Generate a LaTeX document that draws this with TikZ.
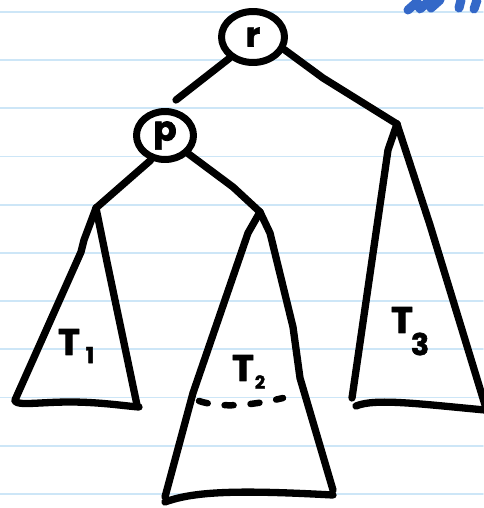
\documentclass[tikz,border=0pt]{standalone}
\usepackage{fontspec}
\setmainfont{Poppins}[BoldFeatures={FakeBold=2}]
\usetikzlibrary{shapes.geometric}
\definecolor{rulecol}{RGB}{205,230,247}
\definecolor{inkblue}{RGB}{52,104,200}
\begin{document}
\begin{tikzpicture}[x=1pt,y=-1pt, line cap=round, line join=round,
  ink/.style={line width=7.3pt, black},
  ruled/.style={rulecol, line width=1.8pt},
  vert/.style={ellipse, draw, line width=7pt, inner sep=0pt, font=\fontsize{34}{34}\selectfont\bfseries},
  lbl/.style={font=\fontsize{37}{37}\selectfont\bfseries, inner sep=0pt},
  sub/.style={font=\fontsize{22}{22}\selectfont\bfseries, inner sep=0pt}]
\useasboundingbox (0,0) rectangle (483,508);
\fill[white] (0,0) rectangle (483,508);
\foreach \y in {12,60.2,108.3,156.5,204.7,253,301.2,349.3,397.5,445.7,494}
  \draw[ruled] (0,\y) -- (483,\y);
% scribble
\draw[inkblue, line width=9pt] (408,10) -- (417,2) -- (420,9) -- (429,1) -- (431,8) -- (440,0);
\draw[inkblue, line width=9pt] (461,0) -- (459,8);
\draw[inkblue, line width=9pt] (477,0) -- (474,9);
% vertices
\node[vert, minimum width=63pt, minimum height=51pt] (r) at (253,37) {r};
\node[vert, minimum width=57pt, minimum height=48pt] (p) at (165,135.5) {p};
% apexes
\coordinate (a1) at (96,208);
\coordinate (a2) at (260,212);
\coordinate (a3) at (397,124);
\coordinate (pe) at (176,100);
% edges
\draw[ink] (r.-138) -- (pe);
\draw[ink] (r.-22) -- (323,78) -- (a3);
\draw[ink] (p.-120) -- (a1);
\draw[ink] (p.-38) -- (233,187) -- (a2);
% T1
\draw[ink] (a1) -- (84,240) -- (81,252) -- (15,400);
\draw[ink] (a1) -- (107,262) -- (137,405);
\draw[ink] (15,401) .. controls (18,406) and (40,402) .. (70,402) .. controls (100,402) and (125,406) .. (139,407);
% T2
\draw[ink] (a2) -- (248,233) -- (193,393) -- (165,497);
\draw[ink] (a2) -- (270,233) -- (293,327) -- (300,378) -- (333,490);
\draw[ink] (165,502) .. controls (195,491) and (240,490) .. (333,495);
\draw[ink, line width=6.5pt, dash pattern=on 9pt off 17pt] (199,401) .. controls (220,408) and (250,406) .. (283,398);
% T3
\draw[ink] (a3) -- (388,150) -- (352,398);
\draw[ink] (a3) -- (430,225) -- (485,405);
\draw[ink] (356,406) .. controls (375,398) and (420,404) .. (485,410);
% labels
\node[lbl] (t1) at (69,342) {T};
\node[sub] (s1) at (90,355) {1};
\node[lbl] (t2) at (243,368) {T};
\node[sub, font=\fontsize{18}{18}\selectfont\bfseries] (s2) at (260,382) {2};
\node[lbl] (t3) at (402,320) {T};
\node[sub, font=\fontsize{30}{30}\selectfont\bfseries] (s3) at (420,344) {3};
\end{tikzpicture}
\end{document}
